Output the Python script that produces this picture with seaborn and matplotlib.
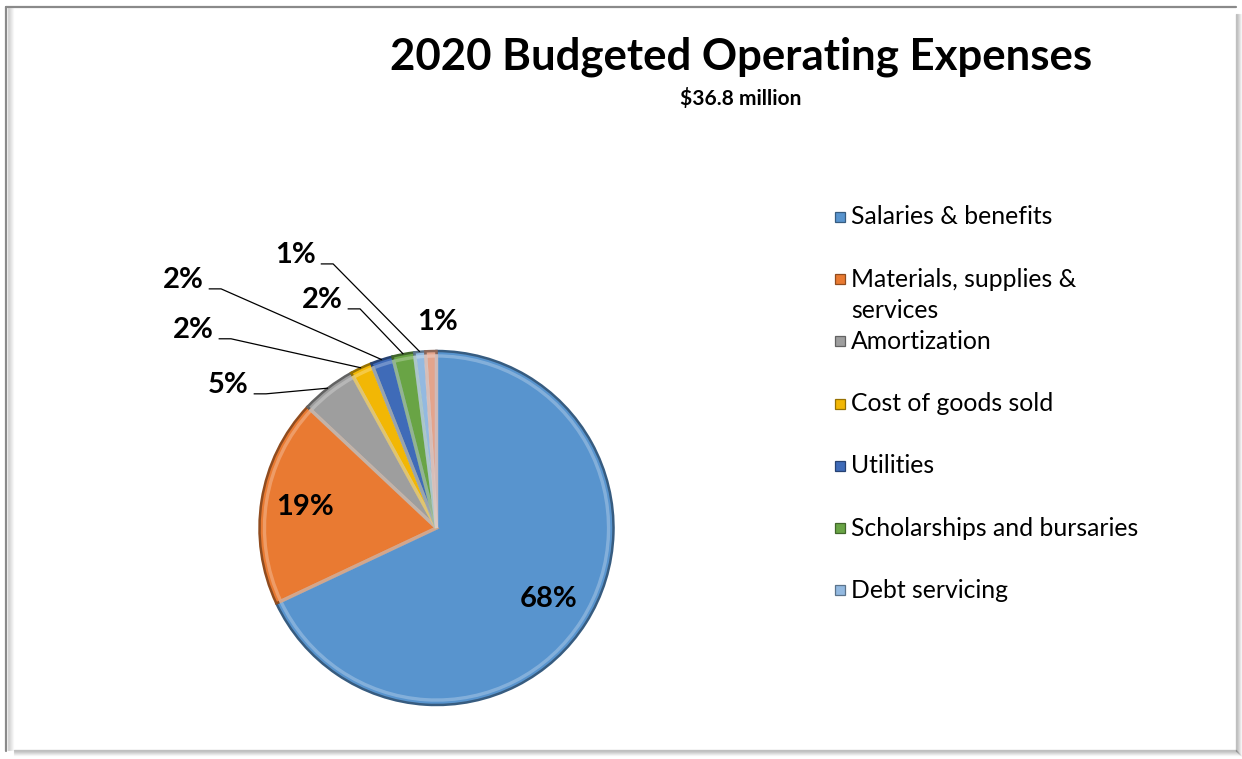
import numpy as np
import matplotlib
matplotlib.use("Agg")
import matplotlib.pyplot as plt
import matplotlib.colors as mcolors
from matplotlib.patches import Rectangle
from matplotlib.lines import Line2D
import seaborn as sns

# ---- data -------------------------------------------------------------
categories = [
    "Salaries & benefits",
    "Materials, supplies &\nservices",
    "Amortization",
    "Cost of goods sold",
    "Utilities",
    "Scholarships and bursaries",
    "Debt servicing",
    "Other",
]
shares = [68, 19, 5, 2, 2, 2, 1, 1]
colors = ["#5894CE", "#E97A32", "#9E9E9E", "#F2B705",
          "#3F6BB8", "#69A445", "#93B9E0", "#E3A48C"]
title = "2020 Budgeted Operating Expenses"
subtitle = "$36.8 million"
legend_entries = 7          # entries that fit in the legend box

# ---- style ------------------------------------------------------------
sns.set_theme(style="white")
plt.rcParams["font.family"] = ["Lato", "DejaVu Sans"]

W, H = 1242, 759
fig = plt.figure(figsize=(W / 100, H / 100), dpi=100)
fig.patch.set_facecolor("white")


def fx(px):
    return px / W


def fy(py):
    return 1 - py / H


# chart-area frame with soft shadow on the right / bottom
for i, a in enumerate(np.linspace(0.22, 0.03, 6)):
    fig.add_artist(Line2D([fx(1236 + i), fx(1236 + i)], [fy(14), fy(751 + i)],
                          transform=fig.transFigure, color="black", alpha=a, lw=1))
    fig.add_artist(Line2D([fx(14), fx(1236 + i)], [fy(750 + i), fy(750 + i)],
                          transform=fig.transFigure, color="black", alpha=a, lw=1))
for i, a in enumerate(np.linspace(0.14, 0.0, 7)):
    fig.add_artist(Line2D([fx(8 + i), fx(8 + i)], [fy(8), fy(750)],
                          transform=fig.transFigure, color="black", alpha=a, lw=1))
fig.add_artist(Line2D([fx(6), fx(1236)], [fy(6.5), fy(6.5)],
                      transform=fig.transFigure, color="#8a8a8a", lw=1.6))
fig.add_artist(Line2D([fx(6), fx(6)], [fy(6.5), fy(751)],
                      transform=fig.transFigure, color="#8a8a8a", lw=1.6))

# ---- titles -----------------------------------------------------------
fig.text(fx(741), fy(57), title, ha="center", va="center",
         fontsize=31.5, fontweight="bold", color="black")
fig.text(fx(741), fy(98), subtitle, ha="center", va="center",
         fontsize=15, fontweight="bold", color="black")

# ---- pie --------------------------------------------------------------
cx, cy, R = 436.5, 528, 177      # pie centre and radius in pixels
L = 1.8                          # half-extent of the axes in radius units
ax = fig.add_axes([fx(cx - L * R), fy(cy + L * R), 2 * L * R / W, 2 * L * R / H])

edge_cols = [tuple(np.array(mcolors.to_rgb(c)) * 0.62) for c in colors]
wedges, _ = ax.pie(shares, colors=colors, startangle=90, counterclock=False,
                   radius=1.0, wedgeprops=dict(linewidth=1.8))
for w, ec in zip(wedges, edge_cols):
    w.set_edgecolor(ec)

# inner highlight giving a bevelled look
hi_cols = [tuple(0.6 * np.array(mcolors.to_rgb(c)) + 0.4) for c in colors]
hi, _ = ax.pie(shares, colors=["none"] * len(shares), startangle=90,
               counterclock=False, radius=0.972,
               wedgeprops=dict(linewidth=2.4, fill=False))
for w, hc in zip(hi, hi_cols):
    w.set_edgecolor(hc)
    w.set_alpha(0.65)

ax.set_xlim(-L, L)
ax.set_ylim(-L, L)
ax.set_aspect("equal")
ax.axis("off")

mid = [np.deg2rad((w.theta1 + w.theta2) / 2) for w in wedges]
labels = [f"{v:d}%" for v in shares]
lbl_kw = dict(fontsize=21, fontweight="bold", color="black",
              ha="center", va="center")

# large slices: label inside the slice
for i in (0, 1):
    ax.text(0.75 * np.cos(mid[i]), 0.75 * np.sin(mid[i]), labels[i], **lbl_kw)

# small slices: label outside with a leader line
outside_pos = {2: (-1.178, 0.808), 3: (-1.376, 1.119), 4: (-1.432, 1.401),
               5: (-0.647, 1.288), 6: (-0.799, 1.542), 7: (0.003, 1.164)}
for i, (tx, ty) in outside_pos.items():
    ax.text(tx, ty, labels[i], **lbl_kw)
    if i == 7:
        continue
    ex, ey = np.cos(mid[i]), np.sin(mid[i])
    ax.plot([tx + 0.145, tx + 0.215, ex], [ty - 0.05, ty - 0.05, ey],
            color="black", lw=0.9, solid_capstyle="butt")

# ---- legend -----------------------------------------------------------
lx, ly0, step = 835, 217, 62.2
leg_fs = 17.8
for k in range(legend_entries):
    y = ly0 + k * step
    fig.add_artist(Rectangle((fx(lx), fy(y + 5)), 9.5 / W, 10 / H,
                             transform=fig.transFigure, facecolor=colors[k],
                             edgecolor=edge_cols[k], lw=0.9))
    first, *rest = categories[k].split("\n")
    fig.text(fx(851), fy(y), first, ha="left", va="center",
             fontsize=leg_fs, color="black")
    for j, line in enumerate(rest, start=1):
        fig.text(fx(851), fy(y + 31 * j), line, ha="left", va="center",
                 fontsize=leg_fs, color="black")

fig.savefig("out.png", dpi=100, facecolor="white")
